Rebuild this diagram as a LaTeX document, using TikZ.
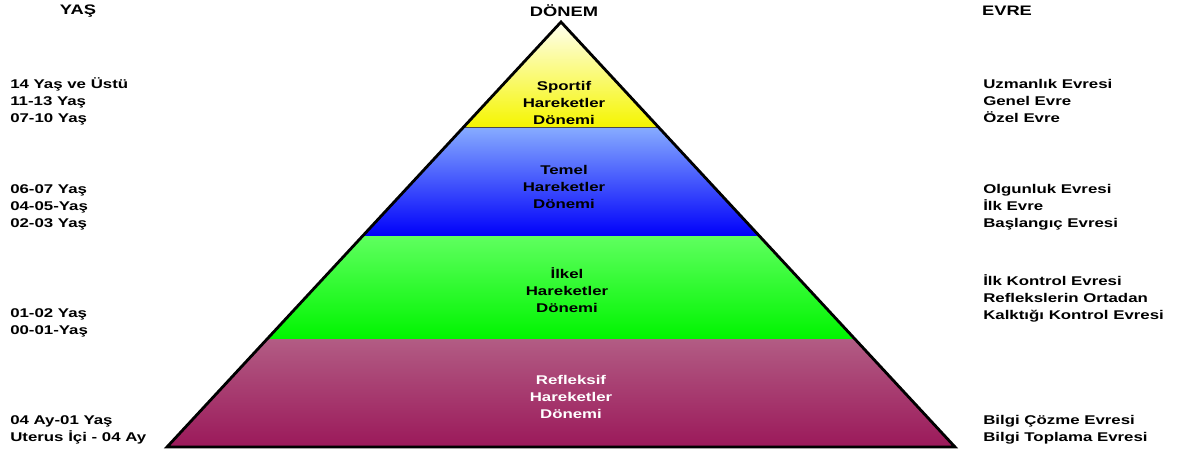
\documentclass[tikz,border=0pt]{standalone}
\usepackage{fontspec}
\newfontfamily\labelfont{Liberation Sans Bold}[FakeStretch=1.33]
\usetikzlibrary{positioning}

\definecolor{sportTop}{RGB}{255,255,240}
\definecolor{sportBot}{RGB}{245,245,0}
\definecolor{temelTop}{RGB}{135,172,255}
\definecolor{temelBot}{RGB}{0,0,250}
\definecolor{ilkelTop}{RGB}{95,255,95}
\definecolor{ilkelBot}{RGB}{0,245,0}
\definecolor{reflTop}{RGB}{178,92,132}
\definecolor{reflBot}{RGB}{155,25,90}

\begin{document}
\begin{tikzpicture}[x=0.025cm,y=-0.025cm,
    lbl/.style={anchor=west, align=left, inner sep=0pt, font=\labelfont\fontsize{9}{12.1}\selectfont},
    bandtxt/.style={align=center, inner sep=0pt, font=\labelfont\fontsize{9}{12.1}\selectfont},
    head/.style={inner sep=0pt, font=\labelfont\fontsize{9.8}{12}\selectfont}]
    \def\lx{10}
    \def\rx{983}

    \useasboundingbox (0,0) rectangle (1189,456);

    \coordinate (apex) at (561,22);
    \coordinate (bl) at (167,447);
    \coordinate (br) at (955,447);

    % bands of the pyramid
    \begin{scope}
        \clip (apex) -- (bl) -- (br) -- cycle;
        \foreach \ya/\yb/\ca/\cb in {22/127/sportTop/sportBot, 127/236/temelTop/temelBot,
                                     236/339/ilkelTop/ilkelBot, 339/447/reflTop/reflBot} {
            \shade[top color=\ca, bottom color=\cb] (150,\ya) rectangle (970,\yb);
        }
        \draw[semithick, black!70] (150,127) -- (970,127);
    \end{scope}
    \draw[line width=2pt, line join=miter] (apex) -- (bl) -- (br) -- cycle;

    % headings
    \node[head] (yas) at (78,11) {YAŞ};
    \node[head] (donem) at (564,11) {DÖNEM};
    \node[head] (evre) at (1007,11) {EVRE};

    % band texts
    \node[bandtxt] (sportif) at (564,103) {Sportif\\Hareketler\\Dönemi};
    \node[bandtxt] (temel) at (564,187) {Temel\\Hareketler\\Dönemi};
    \node[bandtxt] (ilkel) at (567,290) {İlkel\\Hareketler\\Dönemi};
    \node[bandtxt, white] (refleksif) at (571,397) {Refleksif\\Hareketler\\Dönemi};

    % ages
    \node[lbl] (age1) at (\lx,101) {14 Yaş ve Üstü\\11-13 Yaş\\07-10 Yaş};
    \node[lbl] (age2) at (\lx,207) {06-07 Yaş\\04-05-Yaş\\02-03 Yaş};
    \node[lbl] (age3) at (\lx,322.5) {01-02 Yaş\\00-01-Yaş};
    \node[lbl] (age4) at (\lx,429.5) {04 Ay-01 Yaş\\Uterus İçi - 04 Ay};

    % stages
    \node[lbl] (evre1) at (\rx,101) {Uzmanlık Evresi\\Genel Evre\\Özel Evre};
    \node[lbl] (evre2) at (\rx,207) {Olgunluk Evresi\\İlk Evre\\Başlangıç Evresi};
    \node[lbl] (evre3) at (\rx,298) {İlk Kontrol Evresi\\Reflekslerin Ortadan\\Kalktığı Kontrol Evresi};
    \node[lbl] (evre4) at (\rx,429.5) {Bilgi Çözme Evresi\\Bilgi Toplama Evresi};
\end{tikzpicture}
\end{document}
